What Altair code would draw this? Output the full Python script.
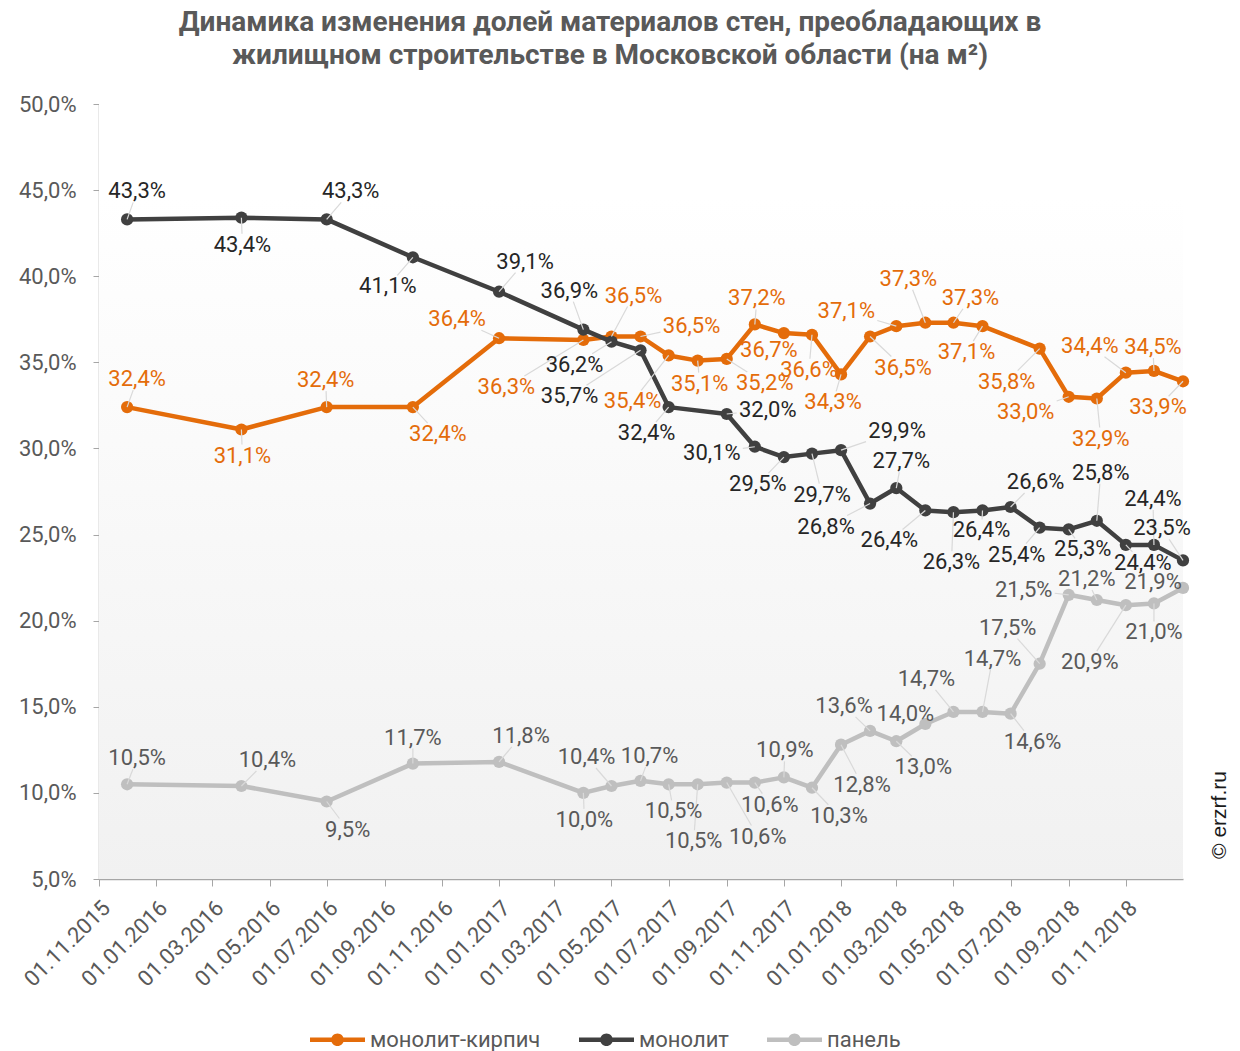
import altair as alt
import pandas as pd
import math

# ---------------- data ----------------
title_lines = [
    "Динамика изменения  долей материалов стен, преобладающих в",
    "жилищном  строительстве  в Московской  области (на м²)",
]

dates = [
    "2015-12-01", "2016-04-01", "2016-07-01", "2016-10-01", "2017-01-01",
    "2017-04-01", "2017-05-01", "2017-06-01", "2017-07-01", "2017-08-01",
    "2017-09-01", "2017-10-01", "2017-11-01", "2017-12-01", "2018-01-01",
    "2018-02-01", "2018-03-01", "2018-04-01", "2018-05-01", "2018-06-01",
    "2018-07-01", "2018-08-01", "2018-09-01", "2018-10-01", "2018-11-01",
    "2018-12-01", "2019-01-01",
]

series_names = ["монолит-кирпич", "монолит", "панель"]

monolit_kirpich = [32.4, 31.1, 32.4, 32.4, 36.4, 36.3, 36.5, 36.5, 35.4, 35.1,
                   35.2, 37.2, 36.7, 36.6, 34.3, 36.5, 37.1, 37.3, 37.3, 37.1,
                   None, 35.8, 33.0, 32.9, 34.4, 34.5, 33.9]
monolit = [43.3, 43.4, 43.3, 41.1, 39.1, 36.9, 36.2, 35.7, 32.4, None,
           32.0, 30.1, 29.5, 29.7, 29.9, 26.8, 27.7, 26.4, 26.3, 26.4,
           26.6, 25.4, 25.3, 25.8, 24.4, 24.4, 23.5]
panel = [10.5, 10.4, 9.5, 11.7, 11.8, 10.0, 10.4, 10.7, 10.5, 10.5,
         10.6, 10.6, 10.9, 10.3, 12.8, 13.6, 13.0, 14.0, 14.7, 14.7,
         14.6, 17.5, 21.5, 21.2, 20.9, 21.0, 21.9]

# label placement (pixel offsets of each data label from its point)
kirpich_label_offsets = [(10, -28), (1, 26), (-1, -27), (25, 27), (-42, -19), (-77, 47), (22, -41),
                         (51, -11), (-36, 46), (2, 23), (38, 24), (2, -26), (-15, 17), (-3, 35),
                         (-8, 28), (33, 31), (-50, -15), (-17, -44), (17, -25), (-16, 26), None,
                         (-33, 33), (-43, 15), (4, 40), (-36, -27), (-1, -24), (-25, 26)]
monolit_label_offsets = [(10, -28), (1, 27), (24, -28), (-25, 29), (26, -30), (-14, -39), (-37, 23),
                         (-71, 46), (-22, 26), None, (41, -4), (-43, 6), (-26, 27), (10, 41),
                         (56, -19), (-44, 23), (5, -27), (-36, 30), (-2, 50), (-1, 20), (25, -25),
                         (-23, 27), (14, 20), (4, -48), (17, 18), (-1, -46), (-21, -32)]
panel_label_offsets = [(10, -26), (26, -26), (21, 28), (0, -26), (22, -26), (1, 27), (-25, -29),
                       (9, -25), (5, 27), (-4, 57), (31, 54), (15, 22), (1, -27), (27, 28),
                       (21, 40), (-26, -25), (27, 26), (-20, -10), (-27, -33), (10, -53), (22, 28),
                       (-32, -36), (-45, -5), (-10, -21), (-36, 57), (0, 29), (-30, -6)]

# ---------------- styles ----------------
line_colors = ["#E46C0A", "#404040", "#BFBFBF"]
label_colors = ["#E46C0A", "#262626", "#595959"]
FONT = "Roboto"
LABEL_SIZE = 22

values_by_series = [monolit_kirpich, monolit, panel]
offsets_by_series = [kirpich_label_offsets, monolit_label_offsets, panel_label_offsets]

rows = []
for name, vals, offs in zip(series_names, values_by_series, offsets_by_series):
    for d, v, o in zip(dates, vals, offs):
        if v is None:
            continue
        dx, dy = o
        # leader line end: where the segment point->label centre meets the label box
        w, h = 31.0, 11.0
        t = max(1 - w / abs(dx) if dx else -1, 1 - h / abs(dy) if dy else -1, 0.0)
        lx, ly = dx * t, dy * t
        lead = math.hypot(lx, ly) > 9
        rows.append({"date": d, "value": v, "series": name, "dx": dx, "dy": dy,
                     "lx": lx, "ly": ly, "lead": lead})
df = pd.DataFrame(rows)


def dt(y, m, d=1):
    return alt.DateTime(year=y, month=m, date=d, utc=True)


tick_dates = []
y_, m_ = 2015, 11
while (y_, m_) <= (2018, 11):
    tick_dates.append(dt(y_, m_))
    m_ += 2
    if m_ > 12:
        m_ -= 12
        y_ += 1

x_scale = alt.Scale(type="utc", domain=[dt(2015, 11, 1), dt(2019, 1, 1)])
y_scale = alt.Scale(domain=[5, 50], nice=False, zero=False)

x_axis = alt.Axis(values=tick_dates, labelExpr="utcFormat(datum.value, '%d.%m.%Y')",
                  labelAngle=-45, labelAlign="right", labelBaseline="top",
                  labelFont=FONT, labelFontSize=22, labelColor="#595959", labelPadding=11,
                  domainColor="#a6a6a6", domainWidth=1.5, tickColor="#a6a6a6", tickSize=7,
                  grid=False, title=None, labelOverlap=False)
y_axis = alt.Axis(values=[5, 10, 15, 20, 25, 30, 35, 40, 45, 50],
                  labelExpr="replace(format(datum.value, '.1f'), '.', ',') + '%'",
                  labelFont=FONT, labelFontSize=22, labelColor="#595959", labelPadding=17,
                  domainColor="#a6a6a6", domainWidth=1.5, tickColor="#a6a6a6", tickSize=6,
                  grid=False, title=None)

X = alt.X("date:T", scale=x_scale, axis=x_axis)
Y = alt.Y("value:Q", scale=y_scale, axis=y_axis)

base = alt.Chart(df)

gradient = alt.LinearGradient(gradient="linear",
                              stops=[alt.GradientStop(color="#ffffff", offset=0),
                                     alt.GradientStop(color="#ffffff", offset=0.12),
                                     alt.GradientStop(color="#f1f1f1", offset=1)],
                              x1=0, x2=0, y1=0, y2=1)
bg = alt.Chart(pd.DataFrame({"k": [0]})).mark_rect(fill=gradient).encode(
    x=alt.X(datum=dt(2015, 11, 1), type="temporal", scale=x_scale, axis=x_axis),
    x2=alt.X2(datum=dt(2019, 1, 1)),
    y=alt.Y(datum=5, type="quantitative", scale=y_scale, axis=y_axis),
    y2=alt.Y2(datum=50),
)

legend_symbol = ("M -1 -0.085 H 1 V 0.085 H -1 Z "
                 "M -0.23 0 A 0.23 0.23 0 1 1 0.23 0 A 0.23 0.23 0 1 1 -0.23 0 Z")
color_scale = alt.Scale(domain=series_names, range=line_colors)
legend = alt.Legend(orient="none", legendX=211, legendY=908, direction="horizontal", title=None,
                    symbolType=legend_symbol, symbolSize=3025, symbolStrokeWidth=0,
                    labelFont=FONT, labelFontSize=22, labelColor="#595959", labelLimit=0,
                    labelOffset=5, columnPadding=38, padding=0)

layers = [bg]
for name, col in zip(series_names, line_colors):
    s = base.transform_filter(alt.datum.series == name)
    layers.append(s.mark_line(strokeWidth=4.5, strokeJoin="round", strokeCap="round", color=col).encode(
        x=X, y=Y))
    layers.append(s.mark_circle(size=150, opacity=1).encode(
        x=X, y=Y, color=alt.Color("series:N", scale=color_scale, legend=legend)))

leaders = base.transform_filter(alt.datum.lead).mark_rule(
    color="#d9d9d9", strokeWidth=1.2,
    x2Offset=alt.ExprRef(expr="datum.lx"), y2Offset=alt.ExprRef(expr="datum.ly"),
).encode(x=X, y=Y, x2=alt.X2("date:T"), y2=alt.Y2("value:Q"))
layers.append(leaders)

for name, col in zip(series_names, label_colors):
    s = base.transform_filter(alt.datum.series == name).transform_calculate(
        label="replace(format(datum.value, '.1f'), '.', ',') + '%'")
    layers.append(s.mark_text(font=FONT, fontSize=LABEL_SIZE, color=col, align="center", baseline="middle",
                              dx=alt.ExprRef(expr="datum.dx"), dy=alt.ExprRef(expr="datum.dy")).encode(
        x=X, y=Y, text="label:N"))

watermark = alt.Chart(pd.DataFrame({"t": ["© erzrf.ru"]})).mark_text(
    font="Liberation Sans", fontSize=21, color="#1a1a1a", angle=270, align="center", baseline="middle"
).encode(text="t:N", x=alt.value(1121), y=alt.value(711))
layers.append(watermark)

chart = alt.layer(*layers).properties(
    width=1084, height=775, autosize="none",
    padding={"left": 99, "top": 104, "right": 57, "bottom": 172},
    title=alt.TitleParams(text=title_lines, font=FONT, fontSize=28, fontWeight="bold",
                          color="#595959", anchor="middle", frame="group", dx=-31,
                          offset=23, lineHeight=33),
).configure_view(stroke=None)

chart.save("out.html", embed_options={"renderer": "svg", "actions": False})
